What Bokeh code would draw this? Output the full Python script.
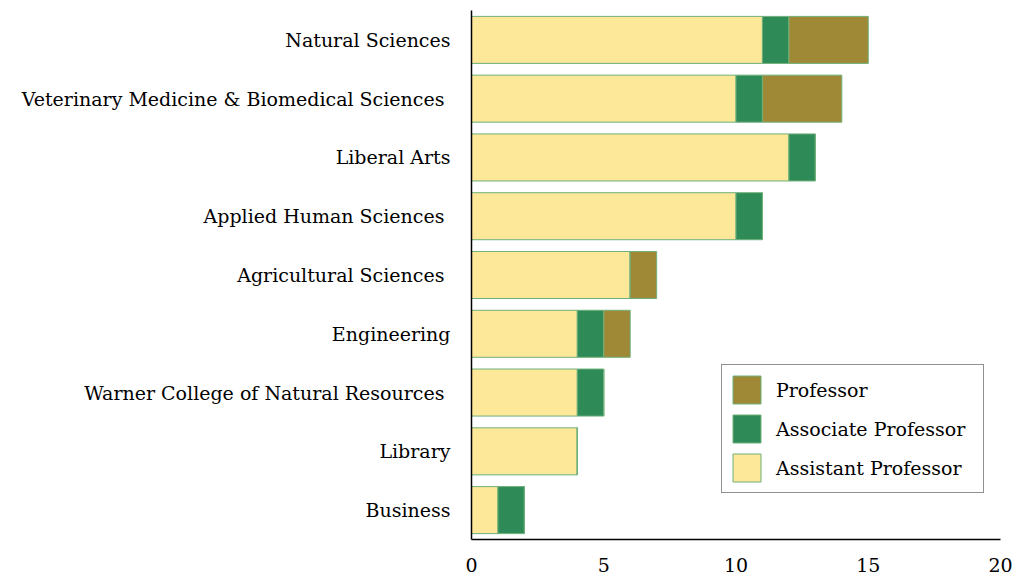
from bokeh.plotting import figure
from bokeh.models import FactorRange, Range1d, FixedTicker, Legend, LegendItem
from bokeh.embed import file_html
from bokeh.resources import INLINE

colleges = ["Business", "Library", "Warner College of Natural Resources ", "Engineering",
            "Agricultural Sciences ", "Applied Human Sciences ", "Liberal Arts",
            "Veterinary Medicine & Biomedical Sciences ", "Natural Sciences"]
assistant = [1, 4, 4, 4, 6, 10, 12, 10, 11]
associate = [1, 0, 1, 1, 0, 1, 1, 1, 1]
professor = [0, 0, 0, 1, 1, 0, 0, 3, 3]
x_ticks = [0, 5, 10, 15, 20]

series = ["Assistant Professor", "Associate Professor", "Professor"]
colors = ["#FDE799", "#2E8B57", "#A08936"]

FONT = "DejaVu Serif"
FS = "19px"

p = figure(width=1013, height=574, y_range=FactorRange(*colleges, range_padding=0),
           x_range=Range1d(0, 20), output_backend="svg", toolbar_location=None,
           min_border_left=471, min_border_right=13, min_border_top=10, min_border_bottom=33)

data = dict(college=colleges, a=assistant, b=associate, c=professor)
keys = ["a", "b", "c"]
rs = p.hbar_stack(keys, y="college", height=0.8, color=colors, source=data,
                  line_color="#6FB07A", line_width=1)

legend = Legend(items=[LegendItem(label=series[i], renderers=[rs[i]]) for i in [2, 1, 0]],
                location=(250, 46), glyph_width=35, glyph_height=35, label_height=35,
                spacing=4, padding=7, margin=0, label_width=200,
                label_text_font=FONT, label_text_font_size=FS, label_standoff=12,
                label_text_color="black",
                border_line_color="#222222", border_line_width=1, background_fill_alpha=1)
p.add_layout(legend, "center")

p.xaxis.ticker = FixedTicker(ticks=x_ticks)
for ax in (p.xaxis[0], p.yaxis[0]):
    ax.major_tick_line_color = None
    ax.minor_tick_line_color = None
    ax.axis_line_color = "black"
    ax.axis_line_width = 1.5
    ax.major_label_text_font = FONT
    ax.major_label_text_font_size = FS
    ax.major_label_text_color = "black"
p.xaxis.major_label_standoff = 12
p.yaxis.major_label_standoff = 15
p.xgrid.grid_line_color = None
p.ygrid.grid_line_color = None
p.outline_line_color = None

open("out.html", "w").write(file_html(p, INLINE))
